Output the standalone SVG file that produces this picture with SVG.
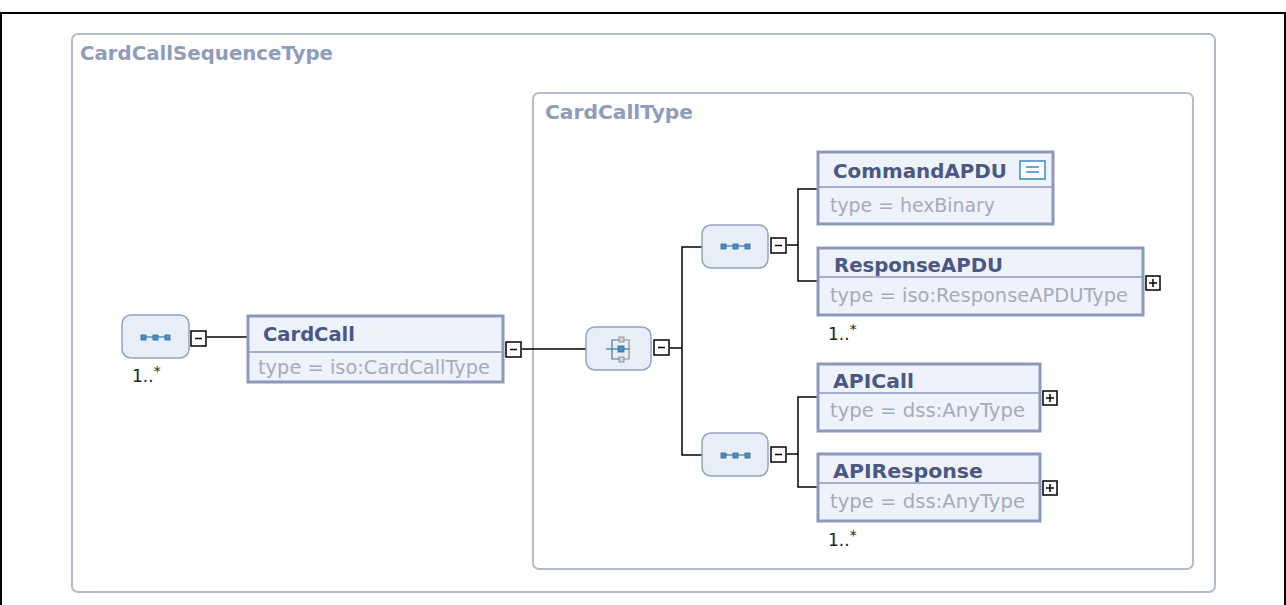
<svg xmlns="http://www.w3.org/2000/svg" width="1286" height="605" viewBox="0 0 1286 605">
<defs>
<style>
.frame{fill:#fff;stroke:#000;stroke-width:2}
.cont{fill:none;stroke:#b3bbcd;stroke-width:2}
.clabel{font-family:"DejaVu Sans",sans-serif;font-weight:bold;font-size:19.5px;fill:#8f9cbb}
.box{fill:#eef2fb;stroke:#8c99bd;stroke-width:3}
.sep{stroke:#8c99bd;stroke-width:1.5}
.hdr{font-family:"DejaVu Sans",sans-serif;font-weight:bold;font-size:20px;fill:#4c5884}
.typ{font-family:"DejaVu Sans",sans-serif;font-size:19.5px;fill:#a5abbd}
.comp{fill:#e7eef8;stroke:#93a3c0;stroke-width:1.5}
.btn{fill:#fff;stroke:#000;stroke-width:1.5}
.sign{stroke:#000;stroke-width:1.5}
.conn{fill:none;stroke:#000;stroke-width:1.5}
.occ{font-family:"DejaVu Sans",sans-serif;font-size:17px;fill:#222}
.ic{fill:#4a90c0;stroke:#2e6a98;stroke-width:0.8}
.icl{stroke:#3a78a8;stroke-width:1.2}
.icg{fill:#d8d0d0;stroke:#8a8080;stroke-width:0.8}
</style>
</defs>
<rect class="frame" x="1" y="13" width="1284" height="600"/>

<g id="CardCallSequenceType">
<rect class="cont" x="72" y="34" width="1143" height="558" rx="6"/>
<text class="clabel" x="80" y="60" textLength="253" lengthAdjust="spacingAndGlyphs">CardCallSequenceType</text>
</g>

<g id="CardCallType">
<rect class="cont" x="533" y="93" width="660" height="476" rx="6"/>
<text class="clabel" x="545" y="119" textLength="148" lengthAdjust="spacingAndGlyphs">CardCallType</text>
</g>

<g id="connectors">
<line class="conn" x1="207" y1="337" x2="247" y2="337"/>
<line class="conn" x1="522" y1="349" x2="586" y2="349"/>
<polyline class="conn" points="702,247 682,247 682,455 702,455"/>
<line class="conn" x1="670" y1="348" x2="682" y2="348"/>
<polyline class="conn" points="818,189 798,189 798,281 818,281"/>
<line class="conn" x1="787" y1="245" x2="798" y2="245"/>
<polyline class="conn" points="818,397 798,397 798,487 818,487"/>
<line class="conn" x1="787" y1="454" x2="798" y2="454"/>
</g>

<g id="seq1">
<rect class="comp" x="122" y="315" width="67" height="43" rx="9"/>
<line class="icl" x1="143" y1="337" x2="168" y2="337"/>
<rect class="ic" x="141" y="335" width="5" height="5"/>
<rect class="ic" x="153" y="335" width="5" height="5"/>
<rect class="ic" x="165" y="335" width="5" height="5"/>
<rect class="btn" x="191" y="331" width="15" height="15"/>
<line class="sign" x1="195" y1="338.5" x2="202" y2="338.5"/>
<text class="occ" x="132" y="382">1..<tspan dy="-6" font-size="14">*</tspan></text>
</g>

<g id="CardCall">
<rect class="box" x="248" y="316" width="255" height="66"/>
<line class="sep" x1="249" y1="352" x2="502" y2="352"/>
<text class="hdr" x="263" y="341" textLength="92" lengthAdjust="spacingAndGlyphs">CardCall</text>
<text class="typ" x="258" y="374" textLength="232" lengthAdjust="spacingAndGlyphs">type = iso:CardCallType</text>
<rect class="btn" x="506" y="342" width="15" height="15"/>
<line class="sign" x1="510" y1="349.5" x2="517" y2="349.5"/>
</g>

<g id="choice">
<rect class="comp" x="586" y="327" width="65" height="43" rx="9"/>
<line class="icl" x1="606" y1="349" x2="630" y2="349"/>
<polyline fill="none" class="icl" points="621,340 612,340 612,359 621,359"/>
<polyline fill="none" stroke="#9a9090" stroke-width="1.2" points="624,340 629,340 629,359 624,359"/>
<rect class="icg" x="619" y="337" width="5" height="5"/>
<rect class="ic" x="618" y="346" width="6" height="6"/>
<rect class="icg" x="619" y="357" width="5" height="5"/>
<rect class="btn" x="654" y="340" width="15" height="15"/>
<line class="sign" x1="658" y1="347.5" x2="665" y2="347.5"/>
</g>

<g id="seq2">
<rect class="comp" x="702" y="225" width="66" height="43" rx="9"/>
<line class="icl" x1="723" y1="246" x2="748" y2="246"/>
<rect class="ic" x="721" y="244" width="5" height="5"/>
<rect class="ic" x="733" y="244" width="5" height="5"/>
<rect class="ic" x="745" y="244" width="5" height="5"/>
<rect class="btn" x="771" y="238" width="15" height="15"/>
<line class="sign" x1="775" y1="245.5" x2="782" y2="245.5"/>
</g>

<g id="seq3">
<rect class="comp" x="702" y="433" width="66" height="43" rx="9"/>
<line class="icl" x1="723" y1="455" x2="748" y2="455"/>
<rect class="ic" x="721" y="453" width="5" height="5"/>
<rect class="ic" x="733" y="453" width="5" height="5"/>
<rect class="ic" x="745" y="453" width="5" height="5"/>
<rect class="btn" x="771" y="447" width="15" height="15"/>
<line class="sign" x1="775" y1="454.5" x2="782" y2="454.5"/>
</g>

<g id="CommandAPDU">
<rect class="box" x="818" y="152" width="235" height="72"/>
<line class="sep" x1="819" y1="187" x2="1052" y2="187"/>
<text class="hdr" x="833" y="178" textLength="174" lengthAdjust="spacingAndGlyphs">CommandAPDU</text>
<text class="typ" x="830" y="212" textLength="165" lengthAdjust="spacingAndGlyphs">type = hexBinary</text>
<rect x="1020" y="161" width="25" height="18" fill="#fff" stroke="#3a88c8" stroke-width="1.5"/>
<line x1="1026" y1="167" x2="1039" y2="167" stroke="#3a88c8" stroke-width="1.5"/>
<line x1="1026" y1="172" x2="1039" y2="172" stroke="#3a88c8" stroke-width="1.5"/>
</g>

<g id="ResponseAPDU">
<rect class="box" x="818" y="248" width="325" height="67"/>
<line class="sep" x1="819" y1="277" x2="1142" y2="277"/>
<text class="hdr" x="834" y="272" textLength="169" lengthAdjust="spacingAndGlyphs">ResponseAPDU</text>
<text class="typ" x="830" y="302" textLength="298" lengthAdjust="spacingAndGlyphs">type = iso:ResponseAPDUType</text>
<rect class="btn" x="1146" y="276" width="14" height="14"/>
<line class="sign" x1="1149" y1="283" x2="1157" y2="283"/>
<line class="sign" x1="1153" y1="279" x2="1153" y2="287"/>
<text class="occ" x="828" y="340">1..<tspan dy="-6" font-size="14">*</tspan></text>
</g>

<g id="APICall">
<rect class="box" x="818" y="364" width="222" height="67"/>
<line class="sep" x1="819" y1="393" x2="1039" y2="393"/>
<text class="hdr" x="833" y="388" textLength="81" lengthAdjust="spacingAndGlyphs">APICall</text>
<text class="typ" x="830" y="417" textLength="195" lengthAdjust="spacingAndGlyphs">type = dss:AnyType</text>
<rect class="btn" x="1043" y="391" width="14" height="14"/>
<line class="sign" x1="1046" y1="398" x2="1054" y2="398"/>
<line class="sign" x1="1050" y1="394" x2="1050" y2="402"/>
</g>

<g id="APIResponse">
<rect class="box" x="818" y="454" width="222" height="67"/>
<line class="sep" x1="819" y1="483" x2="1039" y2="483"/>
<text class="hdr" x="833" y="478" textLength="150" lengthAdjust="spacingAndGlyphs">APIResponse</text>
<text class="typ" x="830" y="508" textLength="195" lengthAdjust="spacingAndGlyphs">type = dss:AnyType</text>
<rect class="btn" x="1043" y="481" width="14" height="14"/>
<line class="sign" x1="1046" y1="488" x2="1054" y2="488"/>
<line class="sign" x1="1050" y1="484" x2="1050" y2="492"/>
<text class="occ" x="828" y="546">1..<tspan dy="-6" font-size="14">*</tspan></text>
</g>
</svg>
